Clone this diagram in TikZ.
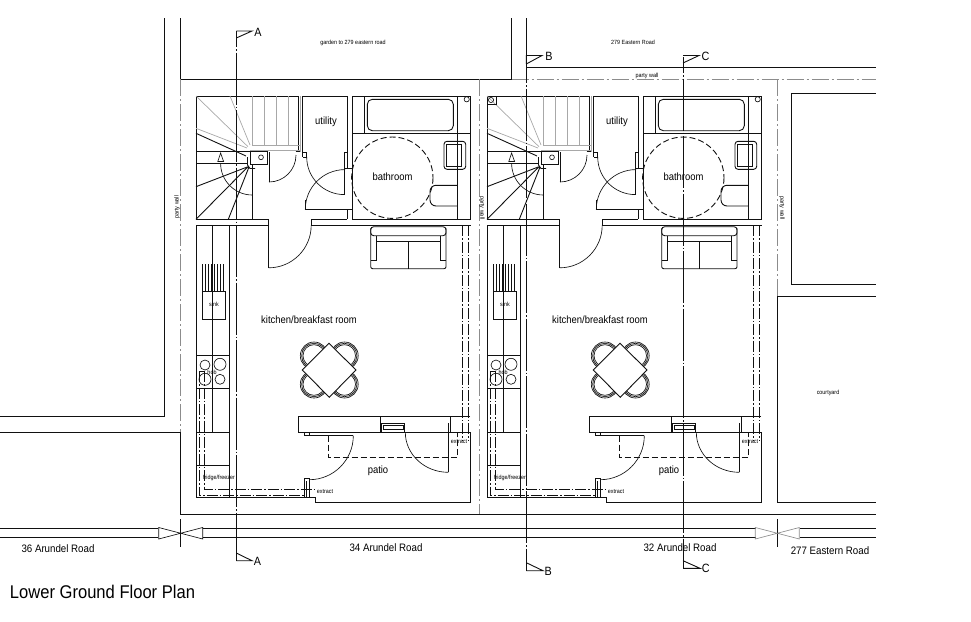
\documentclass[tikz,border=0pt]{standalone}
\usepackage{xcolor}
\usepackage{fontspec}
\setmainfont[FakeStretch=0.9]{Liberation Sans}
\usetikzlibrary{positioning, calc}
\definecolor{wallblack}{HTML}{111111}
\definecolor{faintgrey}{HTML}{A8A8A8}
\definecolor{partygrey}{HTML}{8C8C8C}
\tikzset{
  wallline/.style={draw=wallblack, line width=0.9pt},
  fineline/.style={draw=wallblack, line width=0.65pt},
  stairfaint/.style={draw=faintgrey, line width=0.7pt},
  cutline/.style={draw=wallblack, line width=0.9pt, dash pattern=on 52pt off 2pt on 1.5pt off 2pt, dash phase=36pt},
  ductline/.style={draw=wallblack, line width=0.9pt, dash pattern=on 11pt off 2pt on 1.5pt off 2pt},
  dashline/.style={draw=wallblack, line width=0.9pt, dash pattern=on 6pt off 3pt},
  partyline/.style={draw=partygrey, line width=0.7pt, dash pattern=on 17pt off 3pt on 2pt off 3pt},
  bigroom/.style={font=\fontsize{10.5}{12}\selectfont, text=black, inner sep=0pt},
  roadname/.style={font=\fontsize{10.8}{12}\selectfont, text=black, inner sep=0pt},
  tinytext/.style={font=\fontsize{6}{7}\selectfont, text=black, inner sep=0pt},
  cutletter/.style={font=\fontsize{12}{14}\selectfont, text=black, inner sep=0pt}
}
\begin{document}
\begin{tikzpicture}[x=1pt, y=-1pt]
  \useasboundingbox (0,0) rectangle (971,621);

  % Site boundaries
  \draw[wallline] (164,18) -- (164,416) -- (0,416);
  \draw[wallline] (0,432) -- (180.7,432) -- (180.7,514) -- (875.7,514);
  \draw[wallline] (180.3,18) -- (180.3,79.3) -- (511.7,79.3) -- (511.7,18);
  \draw[wallline] (526,18) -- (526,67.3) -- (875.7,67.3);
  \draw[wallline] (875.7,93.3) -- (791.7,93.3) -- (791.7,284) -- (875.7,284);
  \draw[wallline] (875.7,296) -- (777.3,296) -- (777.3,502.3) -- (875.7,502.3);

  % Party walls
  \draw[partyline] (180.7,79.3) -- (180.7,432);
  \draw[partyline] (511.7,79.3) -- (875.7,79.3);
  \draw[partyline] (479,79.3) -- (479,514);
  \draw[partyline] (777.3,79.3) -- (777.3,296);

  % Road at the front, with its break marks
  \draw[wallline] (0,528.3) -- (158,528.3) (0,537.7) -- (158,537.7);
  \draw[wallline] (203,528.3) -- (755.7,528.3) (203,537.7) -- (755.7,537.7);
  \draw[wallline] (799.7,528.3) -- (875.7,528.3) (799.7,537.7) -- (875.7,537.7);
  \draw[wallline] (180.7,519) -- (180.7,546.7);
  \draw[wallline] (777.3,519) -- (777.3,546.7);
  \foreach \bx/\bc in {180.7/wallblack,777.3/partygrey} {
    \draw[fineline, draw=\bc] (\bx-22,527.5) -- (\bx-22,539) -- (\bx+22,527.5) -- (\bx+22,539) -- cycle;
  }

  % One flat, drawn twice
  \foreach \dx in {0,291} {
  \begin{scope}[xshift=\dx pt]
    % Stairs
    \draw[wallline] (298.3,151.7) -- (298.3,96) -- (196,96) -- (196,219.3) -- (268.7,219.3) -- (268.7,225.3);
    \draw[wallline] (196,151.7) -- (250,151.7) (196,163.3) -- (247,163.3);
    \draw[wallline] (196,133.3) -- (246,156);
    \draw[wallline] (196,186.7) -- (248,166.7) (196,219.3) -- (248,166.7) (228.3,219.3) -- (249,167);
    \draw[wallline] (252.3,165) -- (252.3,219.3);
    \draw[stairfaint] (196,96) -- (248,146.7) (230,96) -- (250,145) (196,128.3) -- (247,148);
    \foreach \tx in {252.7,264.3,276.7,288.7} {
      \draw[stairfaint] (\tx,96) -- (\tx,145);
    }
    \draw[stairfaint] (252,145) -- (300.7,145) (250,150.7) -- (300.7,150.7) (300.7,96) -- (300.7,152);
    \draw[wallline] (247.5,157) -- (247.5,165) -- (250,168.5) -- (255,168.5);
    \draw[wallline] (250,151.7) rectangle (267.7,164.7);
    \draw[fineline] (261,157.3) circle (2.4);
    \draw[fineline] (220.6,163.3) arc[start angle=180, end angle=90, radius=31.7];
    \draw[fineline, fill=white] (220.6,153) -- (217.8,161.5) -- (223.6,161.5) -- cycle;

    % Cupboard door under the stairs
    \draw[wallline] (269,152) -- (269,182);
    \draw[fineline] (296,155) arc[start angle=0, end angle=90, radius=27];
    \draw[wallline] (295.7,151.7) -- (300,151.7);

    % Utility
    \draw[wallline] (302.7,157) -- (302.7,96) -- (347.3,96) -- (347.3,168.7);
    \draw[wallline] (302.7,152) -- (306.7,152) -- (306.7,157) -- (302.7,157);
    \draw[wallline] (347.3,152) -- (344.3,152) -- (344.3,194.7);
    \draw[fineline] (306.7,157) arc[start angle=180, end angle=90, radius=37.6];
    \node[bigroom] (utility\dx) at (326,122) {utility};

    % Bathroom
    \draw[wallline] (352.7,96) rectangle (470.7,219.3);
    \draw[wallline] (352.7,133.3) -- (470.7,133.3);
    \draw[wallline] (364,96) -- (364,133.3) (457.3,96) -- (457.3,219.3);
    \draw[wallline, rounded corners=5pt] (367.3,99.3) rectangle (453.3,130.7);
    \draw[fineline] (466.7,99.3) circle (2.6);
    \draw[wallline, rounded corners=3pt] (444,141.3) rectangle (465.7,169.3);
    \draw[wallline] (446.7,144.3) rectangle (461.7,166.7);
    \draw[wallline, rounded corners=6pt] (457.3,185.3) -- (430,185.3) -- (430,206) -- (457.3,206);
    \draw[dashline] (392.3,177.7) circle (40.7);
    \node[bigroom] (bathroom\dx) at (392.5,177) {bathroom};

    % Bathroom door and the hall walls
    \draw[wallline] (344.3,168.7) -- (352.7,168.7);
    \draw[wallline] (305.3,209.3) -- (352.7,209.3);
    \draw[wallline] (305.3,209.3) -- (305.3,200);
    \draw[fineline] (305.3,209.3) arc[start angle=180, end angle=270, radius=39.7];
    \draw[wallline] (347.3,209.3) -- (347.3,219.3) (311.3,225.3) -- (311.3,219.3) -- (347.3,219.3);

    % Kitchen outline
    \draw[wallline] (268.7,225.3) -- (196,225.3) -- (196,497.3) -- (315.3,497.3) -- (315.3,502.3) -- (470.7,502.3) -- (470.7,432.3);
    \draw[wallline] (311.3,225.3) -- (470.7,225.3);
    \draw[wallline] (268.7,225.3) -- (268.7,267.8);
    \draw[fineline] (311.2,225.3) arc[start angle=0, end angle=90, radius=42.5];

    % Sofa
    \draw[wallline, rounded corners=2pt] (370.7,228) -- (370.7,268.7) -- (446,268.7) -- (446,228);
    \draw[wallline, rounded corners=3pt] (370.7,226.7) rectangle (446,235.7);
    \draw[fineline] (376.7,235.7) -- (376.7,260) (440,235.7) -- (440,260);
    \draw[fineline] (370.7,260) -- (376.7,260) (440,260) -- (446,260);
    \draw[wallline] (376.7,241.7) -- (440,241.7) (408.3,241.7) -- (408.3,268.7);

    % Worktop, sink and hob
    \draw[wallline] (229.3,225.3) -- (229.3,497.3);
    \draw[wallline] (212.3,225.3) -- (212.3,432.3);
    \draw[wallline] (196,355.7) -- (229.3,355.7) (196,388.3) -- (229.3,388.3);
    \draw[wallline] (196,432.3) -- (229.3,432.3) (196,465) -- (229.3,465);
    \draw[wallline] (202.3,291.7) rectangle (225.7,319.3);
    \foreach \gx in {202.5,205.5,208.5,211.5,214.5,217.5,220.5,223.5} {
      \draw[fineline] (\gx,264) -- (\gx,291.7);
    }
    \draw[fineline] (205,365) circle (5);
    \draw[fineline] (220,364.3) circle (6);
    \draw[fineline] (205,379.3) circle (6);
    \draw[fineline] (220,379.3) circle (5);
    \node[tinytext] (sink\dx) at (214,304) {sink};
    \node[tinytext] (hob\dx) at (212,372) {hob};
    \node[tinytext] (fridge\dx) at (219,478) {fridge/freezer};

    % Table and chairs
    \foreach \cx/\cy in {314/355.7,344.5/355.7,314/384.3,344.5/384.3} {
      \draw[fineline] (\cx,\cy) circle (13.7) (\cx,\cy) circle (12.4) (\cx,\cy) circle (11);
    }
    \draw[wallline, fill=white] (329,343.3) -- (356,370) -- (329.3,397.3) -- (302.3,370) -- cycle;
    \node[bigroom] (kitchen\dx) at (309,320) {kitchen/breakfast room};

    % Rear wall, doors and window
    \draw[wallline] (470,416.7) -- (298.3,416.7) -- (298.3,432.3) -- (470.7,432.3);
    \draw[wallline] (380,416.7) -- (380,432.3) (450.7,416.7) -- (450.7,432.3);
    \draw[wallline] (381.2,423.3) rectangle (404.3,432.3);
    \draw[wallline] (383,425.5) rectangle (403,429);
    \draw[wallline] (448.3,423.3) -- (448.3,472.3);
    \draw[fineline] (405.3,432.3) arc[start angle=180, end angle=90, x radius=43, y radius=40];
    \draw[wallline] (304.3,432.3) -- (304.3,435.7) -- (353.3,435.7) (309.3,432.3) -- (309.3,435.7);
    \draw[fineline] (353.3,435.7) arc[start angle=0, end angle=90, radius=44];
    \draw[wallline] (304.3,497.3) -- (304.3,478.3) -- (309.3,478.3) -- (309.3,497.3) (306.8,481) -- (306.8,497.3);
    \draw[dashline] (328.3,435.7) -- (328.3,457.3) -- (457.7,457.3) -- (457.7,432.3);
    \node[bigroom] (patio\dx) at (378,471) {patio};

    % Extract ducts
    \draw[ductline] (199.3,371) -- (199.3,495.7) -- (304,495.7);
    \draw[ductline] (204.3,371) -- (204.3,489.3) -- (316,489.3);
    \draw[fineline] (199.3,371) -- (204.3,371);
    \draw[ductline] (462.7,225.3) -- (462.7,440);
    \draw[ductline] (468.3,225.3) -- (468.3,440);
    \node[tinytext] (extractfront\dx) at (325,492) {extract};
    \node[tinytext] (extractrear\dx) at (459,442) {extract};
  \end{scope}
  }

  % Corner box on the second flat only
  \draw[wallline] (487.3,104) -- (496,104) -- (496,96);
  \draw[fineline] (491,100) circle (2.6);

  % Section lines
  \draw[cutline] (236.3,31) -- (236.3,561);
  \draw[cutline] (526.3,67) -- (526.3,571);
  \draw[cutline] (683,57) -- (683,568);
  \draw[wallline] (236.3,38) -- (252,31) -- (236.3,31);
  \draw[wallline] (236.3,553) -- (252,560.7) -- (236.3,560.7);
  \draw[wallline] (526.3,64) -- (542,55.5) -- (526.3,55.5) -- (526.3,64);
  \draw[wallline] (526.3,562.7) -- (543,570.7) -- (526.3,570.7);
  \draw[wallline] (683,63) -- (699,55.5) -- (683,55.5);
  \draw[wallline] (683,560.7) -- (700,568.3) -- (683,568.3);
  \node[cutletter] (markAtop) at (258,32) {A};
  \node[cutletter] (markAend) at (257.5,561) {A};
  \node[cutletter] (markBtop) at (549,56) {B};
  \node[cutletter] (markBend) at (548.3,571) {B};
  \node[cutletter] (markCtop) at (705.5,56) {C};
  \node[cutletter] (markCend) at (705.7,568.5) {C};

  % Labels
  \node[tinytext] (gardenlabel) at (353,43) {garden to 279 eastern road};
  \node[tinytext] (eastern) at (633,42) {279 Eastern Road};
  \node[tinytext] (partytop) at (647,76) {party wall};
  \node[tinytext, rotate=90] (partyleft) at (177,207) {party wall};
  \node[tinytext, rotate=-90] (partymid) at (482,208) {party wall};
  \node[tinytext, rotate=-90] (partyright) at (782,208) {party wall};
  \node[tinytext] (courtyard) at (828,393) {courtyard};
  \node[roadname] (road36) at (58,549) {36 Arundel Road};
  \node[roadname] (road34) at (386,548) {34 Arundel Road};
  \node[roadname] (road32) at (680,548) {32 Arundel Road};
  \node[roadname] (road277) at (830,551) {277 Eastern Road};
  \node[font=\fontsize{18.4}{20}\selectfont, inner sep=0pt] (plantitle) at (102.5,592) {Lower Ground Floor Plan};
\end{tikzpicture}
\end{document}
